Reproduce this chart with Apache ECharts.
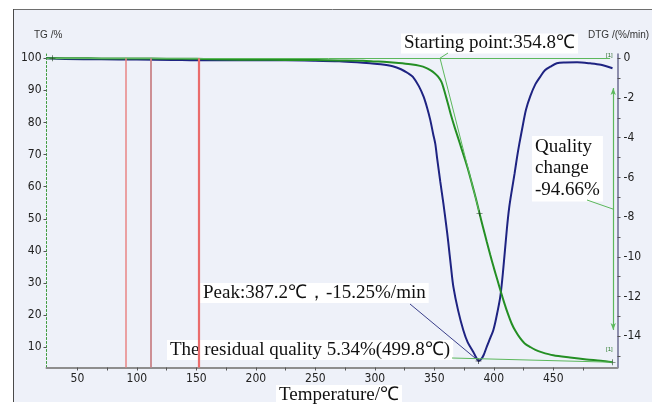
<!DOCTYPE html>
<html><head><meta charset="utf-8">
<script src="https://cdn.jsdelivr.net/npm/echarts@6/dist/echarts.min.js"></script>
<style>html,body{margin:0;padding:0;background:#fff}#c{width:654px;height:406px}</style>
</head><body><div id="c"></div>
<script>
// ---- data ----
const tgTemp = [24, 40, 60, 80, 100, 125, 150, 175, 200, 225, 250, 270, 290, 300, 310, 320, 330, 338, 343, 347, 350, 353, 356, 358, 360, 362, 364, 367, 370, 373, 376, 379, 382, 385, 388, 391, 394, 397, 400, 403, 406, 409, 412, 415, 418, 422, 426, 431, 435, 440, 450, 464, 478, 490, 499.8];
const tgValue = [100, 100, 99.95, 99.9, 99.9, 99.85, 99.8, 99.6, 99.5, 99.45, 99.4, 99.3, 99.2, 99.0, 98.8, 98.5, 98.1, 97.6, 97.0, 96.2, 95.4, 94.3, 92.6, 90.4, 87.8, 85.1, 82.3, 78.6, 75.2, 71.7, 68.2, 64.5, 60.4, 56.2, 51.7, 47.3, 43.0, 38.8, 34.8, 31.0, 27.2, 23.6, 20.3, 17.4, 15.2, 12.9, 11.2, 10.0, 9.2, 8.5, 7.5, 6.8, 6.2, 5.8, 5.34];
const dtgTemp = [24, 40, 70, 100, 130, 150, 175, 200, 225, 250, 270, 285, 296, 305, 315, 322, 328, 332, 337, 341, 344, 346.6, 349, 350.8, 352.3, 355, 357.6, 360, 361.8, 364, 366, 370, 374.4, 378, 382.8, 385, 387.2, 389.5, 391.5, 394.3, 397, 399.6, 402, 405.5, 408, 411, 413, 415.3, 417.5, 419.5, 421.5, 423.7, 427, 430.7, 435, 439, 443, 447.5, 453, 460, 470, 481, 490, 499.8];
const dtgValue = [0, -0.03, -0.05, -0.06, -0.08, -0.1, -0.09, -0.1, -0.1, -0.12, -0.15, -0.2, -0.25, -0.3, -0.4, -0.55, -0.75, -0.93, -1.4, -1.93, -2.5, -3.1, -3.8, -4.3, -5.0, -6.2, -7.3, -8.4, -9.3, -10.5, -11.5, -12.7, -13.7, -14.3, -14.8, -15.05, -15.25, -15.15, -14.95, -14.5, -14.1, -13.7, -13.1, -12.0, -10.6, -8.6, -7.5, -6.6, -5.8, -5.0, -4.3, -3.6, -2.6, -1.9, -1.3, -0.93, -0.6, -0.42, -0.25, -0.21, -0.2, -0.25, -0.32, -0.5];
const xLabels = [50, 100, 150, 200, 250, 300, 350, 400, 450];
const xTickValues = [50, 75, 100, 125, 150, 175, 200, 225, 250, 275, 300, 325, 350, 375, 400, 425, 450, 475];
const tgLabels = [10, 20, 30, 40, 50, 60, 70, 80, 90, 100];
const dtgLabels = [0, -2, -4, -6, -8, -10, -12, -14];
const dtgTickValues = [0, -1, -2, -3, -4, -5, -6, -7, -8, -9, -10, -11, -12, -13, -14, -15];
const redLineTemps = [91, 112, 152];
const onsetTemp = 354.8;
const inflection = [388, 51.7];
const peakTemp = 387.2, peakDTG = -15.25;
const residualTemp = 499.8, residualTG = 5.34;
const arrowTemp = 500.4, arrowTop = 90.7, arrowBottom = 15.4;
const baselineEnd = 497.8;

const X_MIN = 24, X_MAX = 504, TG_MIN = 3.7, TG_MAX = 101.3, DTG_MIN = -15.58, DTG_MAX = 0.22;

const zip = (a, b) => a.map((v, i) => [v, b[i]]);
const numFont = "'Liberation Sans Narrow','DejaVu Sans Condensed','Liberation Sans',sans-serif";
const serif = "'Times New Roman','Liberation Serif',serif";
const thinGreen = '#5cb85c';

const redColors = ['#e98585', '#c98489', '#ea6c6c'];
const redWidths = [1.5, 1.8, 2.2];
const redLines = redLineTemps.map((t, i) => [
  {coord: [t, 100], lineStyle: {color: redColors[i], width: redWidths[i], type: 'solid'}},
  {coord: [t, TG_MIN], lineStyle: {color: redColors[i], width: redWidths[i], type: 'solid'}}
]);
const plusPath = 'path://M0,4.5h10v1h-10z M4.5,0h1v10h-1z';

const chart = echarts.init(document.getElementById('c'));
chart.setOption({
  backgroundColor: '#ffffff',
  animation: false,
  grid: {left: 46.5, right: 36.5, top: 54, bottom: 38.5, containLabel: false},
  xAxis: {
    type: 'value', min: X_MIN, max: X_MAX,
    axisLine: {show: true, onZero: false, lineStyle: {color: '#8e8e8e', width: 2}},
    axisTick: {show: true, customValues: xTickValues, length: 3, lineStyle: {color: '#555'}},
    axisLabel: {customValues: xLabels, margin: 5, fontSize: 12, fontFamily: numFont, color: '#222'},
    splitLine: {show: false}
  },
  yAxis: [{
    type: 'value', position: 'left', min: TG_MIN, max: TG_MAX,
    axisLine: {show: true, lineStyle: {color: '#3d9a3d', width: 1, type: [2, 2]}},
    axisTick: {show: true, customValues: tgLabels, length: 3, lineStyle: {color: '#555'}},
    axisLabel: {customValues: tgLabels, margin: 5, fontSize: 12, fontFamily: numFont, color: '#222'},
    splitLine: {show: false}
  }, {
    type: 'value', position: 'right', min: DTG_MIN, max: DTG_MAX,
    axisLine: {show: true, lineStyle: {color: '#6c6c92', width: 1.5}},
    axisTick: {show: true, customValues: dtgTickValues, length: 3, lineStyle: {color: '#555'}},
    axisLabel: {customValues: dtgLabels, margin: 6, fontSize: 12, fontFamily: numFont, color: '#222'},
    splitLine: {show: false}
  }],
  series: [{
    name: 'TG', type: 'line', yAxisIndex: 0, data: zip(tgTemp, tgValue),
    showSymbol: false, smooth: 0.3, z: 4,
    lineStyle: {color: '#248f24', width: 2},
    emphasis: {disabled: true}, silent: true,
    markLine: {
      silent: true, symbol: ['none', 'none'], label: {show: false}, emphasis: {disabled: true},
      animation: false,
      data: [
        [{coord: [X_MIN, 100], lineStyle: {color: thinGreen, width: 1, type: 'solid'}}, {coord: [baselineEnd, 100], lineStyle: {color: thinGreen, width: 1, type: 'solid'}}],
        [{coord: [onsetTemp, 100], lineStyle: {color: thinGreen, width: 1, type: 'solid'}}, {coord: inflection, lineStyle: {color: thinGreen, width: 1, type: 'solid'}}],
        [{coord: [arrowTemp, arrowTop], symbol: 'arrow', symbolSize: [4, 7], lineStyle: {color: thinGreen, width: 1.2, type: 'solid'}},
         {coord: [arrowTemp, arrowBottom], symbol: 'arrow', symbolSize: [4, 7], lineStyle: {color: thinGreen, width: 1.2, type: 'solid'}}],
        ...redLines
      ]
    },
    markPoint: {
      silent: true, symbol: plusPath, symbolSize: 6, label: {show: false}, animation: false,
      itemStyle: {color: '#1d3d1d'},
      data: [{coord: [X_MIN + 5, 100]}, {coord: inflection}, {coord: [residualTemp, residualTG]}]
    }
  }, {
    name: 'DTG', type: 'line', yAxisIndex: 1, data: zip(dtgTemp, dtgValue),
    showSymbol: false, smooth: 0.3, z: 3,
    lineStyle: {color: '#1e2382', width: 2},
    emphasis: {disabled: true}, silent: true,
    markPoint: {
      silent: true, symbol: plusPath, symbolSize: 6, label: {show: false}, animation: false,
      itemStyle: {color: '#111'},
      data: [{coord: [peakTemp, peakDTG]}]
    }
  }]
});

const tg = p => chart.convertToPixel({seriesIndex: 0}, p);
const dtg = p => chart.convertToPixel({seriesIndex: 1}, p);
const pOnset = tg([onsetTemp, 100]);
const pPeak = dtg([peakTemp, peakDTG]);
const pRes = tg([residualTemp, residualTG]);
const pArrow = tg([arrowTemp, 53]);

function box(text, x, y, extra) {
  return Object.assign({type: 'text', z: 1, silent: true,
    style: Object.assign({text: text, x: x, y: y, fontFamily: serif, fontSize: 19, fill: '#111',
      backgroundColor: '#ffffff', padding: [1, 3, 0, 3], verticalAlign: 'middle', align: 'left'}, extra || {})});
}
function seg(x1, y1, x2, y2, color) {
  return {type: 'line', z: 5, silent: true, shape: {x1: x1, y1: y1, x2: x2, y2: y2}, style: {stroke: color, lineWidth: 1}};
}

chart.setOption({graphic: [
  {type: 'rect', z: -10, silent: true, shape: {x: 13, y: 9, width: 639, height: 393}, style: {fill: '#eef1f9'}},
  {type: 'line', z: -9, silent: true, shape: {x1: 13, y1: 9.5, x2: 652, y2: 9.5}, style: {stroke: '#6e6e6e', lineWidth: 1}},
  {type: 'line', z: -9, silent: true, shape: {x1: 13.5, y1: 9, x2: 13.5, y2: 402}, style: {stroke: '#4a4a4a', lineWidth: 1}},
  {type: 'text', z: 1, silent: true, style: {text: 'TG /%', x: 34, y: 35, fontFamily: "'Liberation Sans',sans-serif", fontSize: 10, fill: '#333', verticalAlign: 'middle'}},
  {type: 'text', z: 1, silent: true, style: {text: 'DTG /(%/min)', x: 588, y: 35, fontFamily: "'Liberation Sans',sans-serif", fontSize: 10, fill: '#333', verticalAlign: 'middle'}},
  box('Starting point:354.8℃', 401, 43.5),
  box('Quality\nchange\n-94.66%', 532, 136, {verticalAlign: 'top', lineHeight: 21.5, padding: [0, 3, 1, 3]}),
  box('Peak:387.2℃，-15.25%/min', 200, 293),
  box('The residual quality 5.34%(499.8℃)', 167, 350),
  box('Temperature/℃', 276, 395),
  {type: 'text', z: 6, silent: true, style: {text: '[1]', x: 606, y: 55, fontSize: 6, fill: '#2a6a2a', fontFamily: "'Liberation Sans',sans-serif", verticalAlign: 'middle'}},
  {type: 'text', z: 6, silent: true, style: {text: '[1]', x: 606, y: 349, fontSize: 6, fill: '#2a7a2a', fontFamily: "'Liberation Sans',sans-serif", verticalAlign: 'middle'}},
  seg(448, 53, pOnset[0], pOnset[1], thinGreen),
  seg(410, 304, pPeak[0], pPeak[1], '#3a3f8a'),
  seg(452, 358, pRes[0], pRes[1], thinGreen),
  seg(587, 200, pArrow[0], pArrow[1], thinGreen)
]});
</script>
</body></html>
